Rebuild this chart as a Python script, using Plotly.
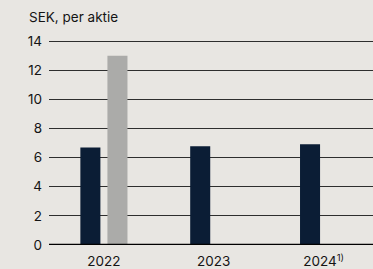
import plotly.graph_objects as go

categories = [0, 1, 2]
tick_labels = ["2022", "2023", "2024<sup>1)</sup>"]
dark_values = [6.7, 6.78, 6.92]
gray_values = [13.0, None, None]
y_ticks = [0, 2, 4, 6, 8, 10, 12, 14]

BG = "#E8E6E2"
FONT = "Inter, Lato, sans-serif"
TXT = "#141414"

fig = go.Figure()
fig.add_trace(go.Bar(x=categories, y=dark_values, marker_color="#0B1D35",
                     marker_line_width=0, showlegend=False))
fig.add_trace(go.Bar(x=categories, y=gray_values, marker_color="#ABABA9",
                     marker_line_width=0, showlegend=False))

fig.update_layout(
    width=373, height=269,
    paper_bgcolor=BG, plot_bgcolor=BG,
    margin=dict(l=49, r=0, t=40, b=21),
    barmode="group", bargap=0.507, bargroupgap=0.26,
    font=dict(family=FONT, size=13.5, color=TXT),
    title=dict(text="SEK, per aktie", x=29/373, xanchor="left",
               y=1 - 17/269, yanchor="middle", xref="container", yref="container",
               font=dict(family=FONT, size=13.5, color=TXT)),
)
fig.update_xaxes(
    range=[-0.5, 2.45], tickvals=categories, ticktext=tick_labels,
    showgrid=False, zeroline=False, showline=False,
    ticks="outside", ticklen=4, tickcolor="rgba(0,0,0,0)",
    tickfont=dict(family=FONT, size=13.5, color=TXT),
)
fig.update_yaxes(
    range=[0, 14.08], tickvals=y_ticks,
    showgrid=True, gridcolor="#2e2e2e", gridwidth=1.2,
    zeroline=False, showline=False,
    ticklabelstandoff=6,
    tickfont=dict(family=FONT, size=13.5, color=TXT),
)
fig.add_shape(type="line", xref="paper", yref="y", x0=0, x1=1, y0=0, y1=0,
              line=dict(color="#000000", width=2.5), layer="above")

fig.write_html("out.html", config={"displayModeBar": False},
               post_script="document.body.style.margin='0';document.body.style.overflow='hidden';")
